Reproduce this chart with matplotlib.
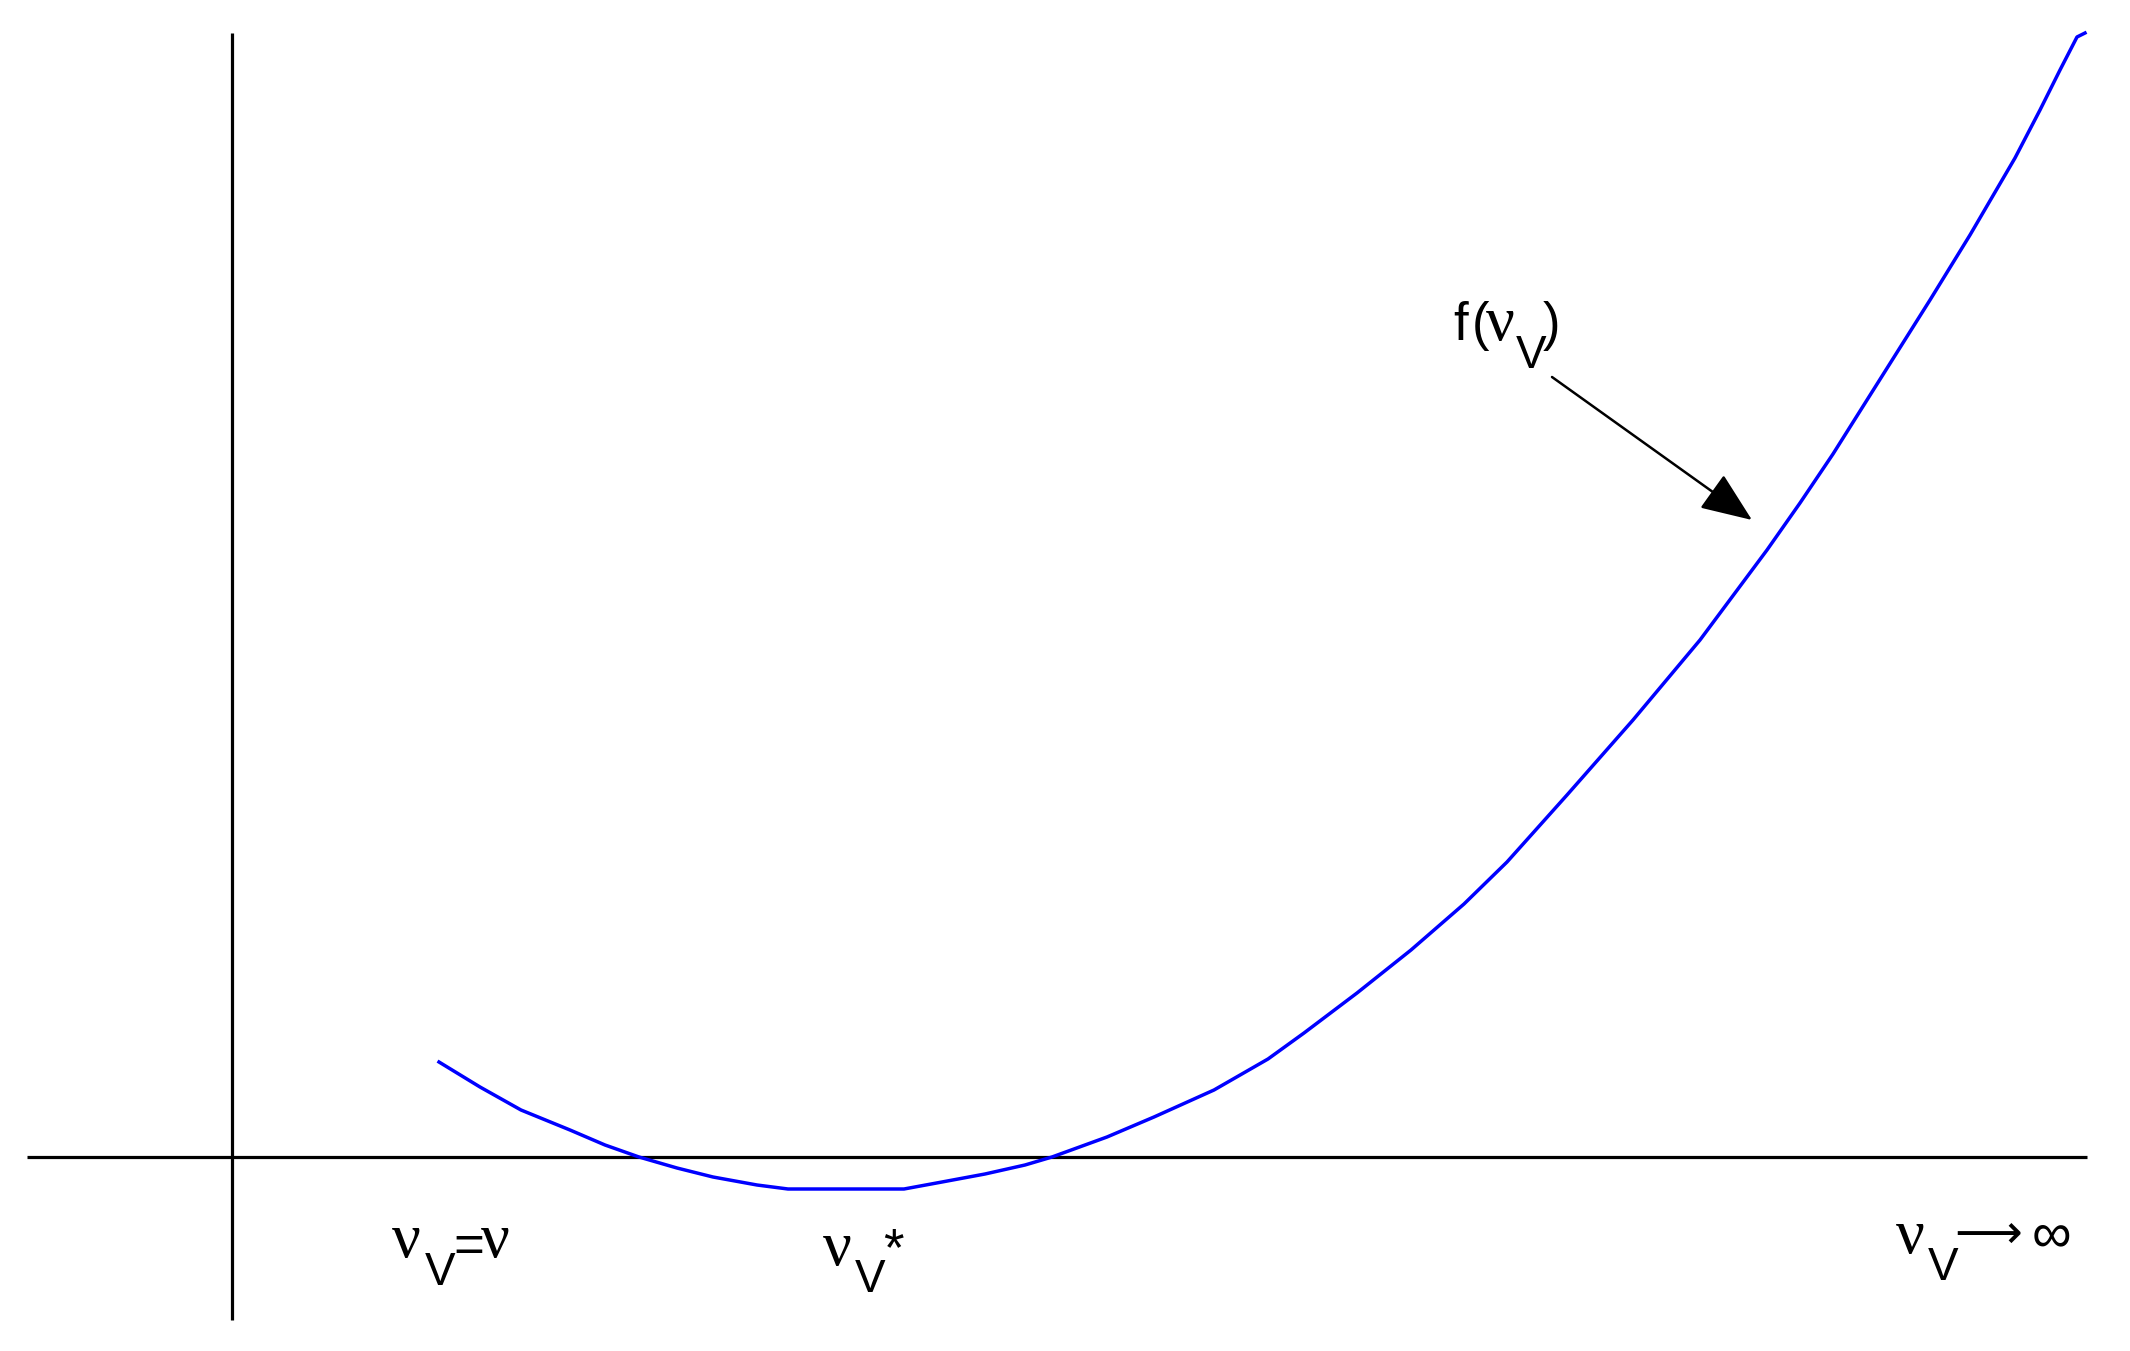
import matplotlib
matplotlib.use("Agg")
import matplotlib.pyplot as plt

# curve f(nu_V) (axis units: origin where the two axes cross)
curve_x = [2.07, 2.48, 2.89, 3.38, 3.73, 4.07, 4.45, 4.81, 5.25, 5.56, 6.14, 6.72,
           7.10, 7.53, 7.93, 8.20, 8.75, 9.22, 9.82, 10.36, 10.72, 11.25, 11.79,
           12.32, 12.75, 13.35, 14.01, 14.68, 15.35, 15.68, 16.01, 16.35, 16.98,
           17.38, 17.83, 18.08, 18.28, 18.45, 18.53]
curve_y = [0.95, 0.70, 0.47, 0.27, 0.12, 0.00, -0.11, -0.20, -0.28, -0.32, -0.32, -0.32,
           -0.25, -0.17, -0.08, 0.00, 0.20, 0.40, 0.67, 0.98, 1.24, 1.64, 2.07,
           2.53, 2.95, 3.62, 4.37, 5.17, 6.07, 6.54, 7.03, 7.57, 8.57,
           9.22, 9.99, 10.47, 10.87, 11.20, 11.24]

# axis extents
hx = [-2.05, 18.55]
vy = [-1.63, 11.24]

nu = "\u03bd"
SERIF = "Liberation Serif"
SANS = "Liberation Sans"

fig = plt.figure(figsize=(21.3, 13.51), dpi=100)
ax = fig.add_axes([0, 0, 1, 1])
ax.set_xlim(-2.32, 18.98)
ax.set_ylim(-1.94, 11.57)
ax.axis("off")

# axes
ax.plot(hx, [0, 0], color="black", lw=2.3, solid_capstyle="butt")
ax.plot([0, 0], vy, color="black", lw=2.3, solid_capstyle="butt")

# the curve
ax.plot(curve_x, curve_y, color="#0000ff", lw=2.5)

def put(x, y, s, fam, size, va="baseline"):
    ax.text(x, y, s, family=fam, fontsize=size, ha="left", va=va, color="black")

# nu_V = nu
put(1.60, -1.00, nu, SERIF, 46)
put(1.93, -1.28, "V", SANS, 33)
put(2.21, -1.05, "=", SANS, 38)
put(2.49, -1.00, nu, SERIF, 46)

# nu_V^*
put(5.91, -1.08, nu, SERIF, 46)
put(6.23, -1.35, "V", SANS, 33)
put(6.51, -1.08, "*", SANS, 38)

# nu_V -> infinity
put(16.64, -0.96, nu, SERIF, 46)
put(16.96, -1.23, "V", SANS, 33)
put(17.22, -0.78, "\u27f6", "DejaVu Sans", 34, va="center")
put(18.00, -0.80, "\u221e", SANS, 40, va="center")

# f(nu_V)
put(12.21, 8.17, "f", SANS, 38)
put(12.40, 8.17, "(", SANS, 38)
put(12.54, 8.17, nu, SERIF, 46)
put(12.84, 7.89, "V", SANS, 33)
put(13.11, 8.17, ")", SANS, 38)

ax.annotate("", xy=(15.20, 6.37), xytext=(13.20, 7.80),
            arrowprops=dict(arrowstyle="-|>,head_length=1.6,head_width=0.65",
                            color="black", lw=1.8, mutation_scale=20,
                            shrinkA=0, shrinkB=0))

fig.savefig("out.png", dpi=100)
